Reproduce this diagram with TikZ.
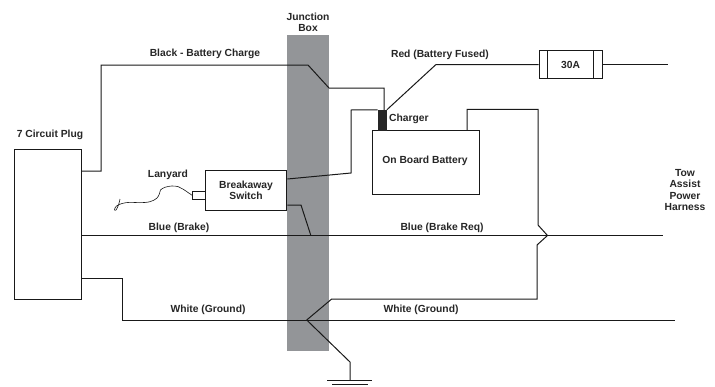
\documentclass[tikz,border=0pt]{standalone}
\usepackage{fontspec}
\setmainfont{Liberation Sans}
\usetikzlibrary{calc}
\begin{document}
\begin{tikzpicture}[x=1pt,y=-1pt,
  wire/.style={line width=1pt, draw=black!90, line join=miter},
  thin wire/.style={line width=0.6pt, draw=black!90},
  lbl/.style={font=\bfseries\fontsize{10.3}{11.3}\selectfont, text=black!85, inner sep=0pt, align=center},
  box/.style={draw=black!90, line width=1pt, inner sep=0pt, fill=white}]
\useasboundingbox (0,0) rectangle (715,386);
\definecolor{jbgray}{RGB}{147,149,152}
% junction box
\node[fill=jbgray, minimum width=42pt, minimum height=315.5pt, inner sep=0pt] (jb) at (308,193) {};
\node[lbl] (jblbl) at (308,22.5) {Junction\\Box};

% components
\node[box, minimum width=66.7pt, minimum height=150pt] (plug) at (48.3,224.2) {};
\node[lbl] (pluglbl) at (50,135) {7 Circuit Plug};
\node[box, minimum width=81.3pt, minimum height=40.3pt] (sw) at (246.3,190.8) {};
\node[lbl] (swlbl) at (246,190.5) {Breakaway\\Switch};
\node[box, minimum width=12.7pt, minimum height=8pt] (plugsw) at (199.3,195.5) {};
\node[box, minimum width=107.4pt, minimum height=63.6pt] (bat) at (426,162.5) {};
\node[lbl] (batlbl) at (425,161) {On Board Battery};
\node[fill=black!85, minimum width=9pt, minimum height=20.7pt, inner sep=0pt] (chg) at (382.2,120.3) {};
\node[lbl, anchor=west] (chglbl) at (389,119) {Charger};
\node[box, minimum width=63pt, minimum height=28pt] (fuse) at (570.5,64.5) {};
\draw[wire] ($(fuse.north west)+(8.7,0)$) -- ($(fuse.south west)+(8.7,0)$);
\draw[wire] ($(fuse.north east)+(-8.7,0)$) -- ($(fuse.south east)+(-8.7,0)$);
\node[lbl] (fuselbl) at (570.5,65) {30A};

% labels
\node[lbl] (blacklbl) at (205,54) {Black - Battery Charge};
\node[lbl] (redlbl) at (440,55) {Red (Battery Fused)};
\node[lbl] (lanlbl) at (168,175) {Lanyard};
\node[lbl] (towlbl) at (685,190) {Tow\\Assist\\Power\\Harness};
\node[lbl] (bluelbl1) at (179,228) {Blue (Brake)};
\node[lbl] (bluelbl2) at (442,228) {Blue (Brake Req)};
\node[lbl] (whitelbl1) at (208,310) {White (Ground)};
\node[lbl] (whitelbl2) at (421,310) {White (Ground)};

% free ends
\coordinate (redend) at (668,64.5);
\coordinate (blueend) at (663,235);
\coordinate (whiteend) at (675,320);
\coordinate (gnd) at (350,380.5);
\coordinate (star) at (306.7,320);

% black - battery charge
\draw[wire] (plug.east |- 0,171) -- (101,171) -- (101,65) -- (308,65) -- (329,88) -- (384,88) -- ($(chg.north east)+(-2.7,0)$);
% red fused
\draw[wire] (chg.north east) -- (436,64.5) -- (fuse.west);
\draw[wire] (fuse.east) -- (redend);
% charger to breakaway switch
\draw[wire] (chg.north west) -- (351,110) -- (351,173) -- (sw.east |- 0,179);
% switch to brake
\draw[wire] (sw.east |- 0,205) -- (301,205) -- (310.7,235);
% blue
\draw[wire] (plug.east |- 0,235) -- (blueend);
% white
\draw[wire] (plug.east |- 0,278) -- (122,278) -- (122,320) -- (whiteend);
% ground branch to battery
\draw[wire] (star) -- (331.7,299) -- (537,299) -- (537,245) -- (547.5,235.5) -- (538,225) -- (538,109.3) -- (467,109.3) -- (bat.north -| 467,0);
% ground
\draw[wire] (star) -- (350,362) -- (gnd);
\draw[wire] (327,380.5) -- (372,380.5);
\draw[wire] (332,384.5) -- (368,384.5);
% lanyard
\draw[thin wire] plot[smooth, tension=0.6] coordinates {(plugsw.west) (188.3,192.7) (183.3,189.3) (178.3,186.7) (171.7,186) (165,187.3) (160.5,190) (159.3,194) (156.7,198.3) (150,201.7) (140,202.7) (130,202.3) (122,203.5) (116.5,206) (114.5,209.5) (116,210) (118.5,205) (120,199)};
\end{tikzpicture}
\end{document}
